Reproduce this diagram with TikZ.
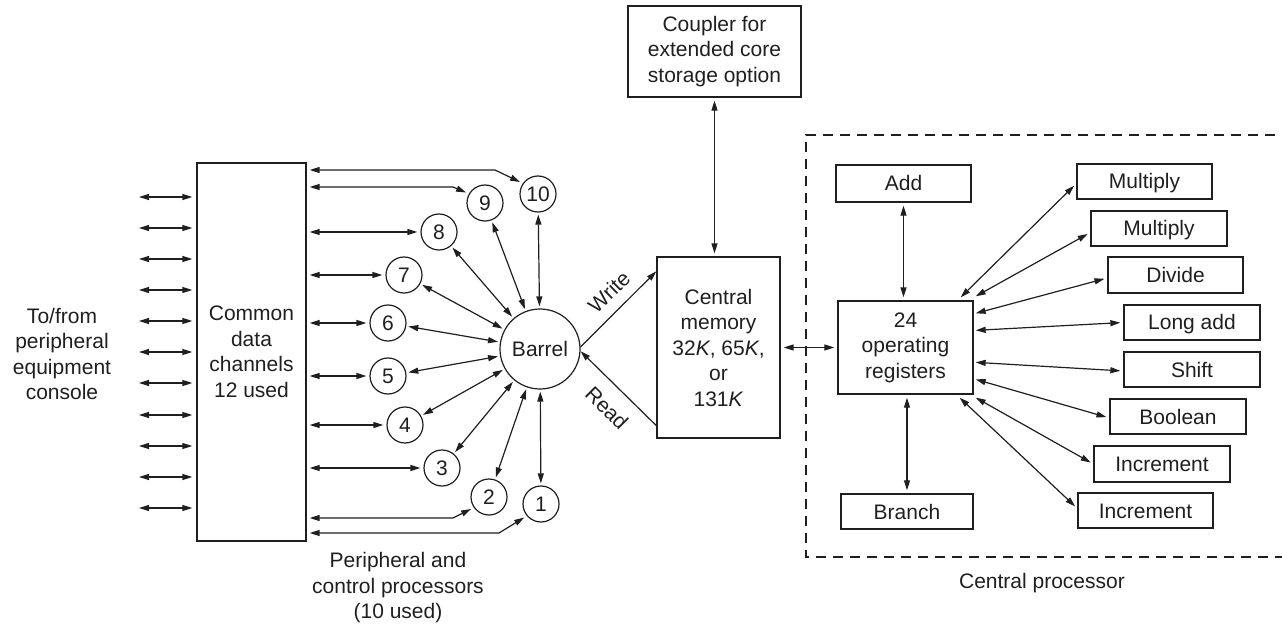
\documentclass[tikz,border=0pt]{standalone}
\usepackage{fontspec}
\setmainfont{Liberation Sans}
\usetikzlibrary{arrows.meta,calc}
\begin{document}
\begin{tikzpicture}[x=1pt,y=-1pt,
  every node/.style={font=\fontsize{21}{25.5}\selectfont,text=black!88},
  box/.style={draw=black!88,line width=1.3pt,inner sep=0pt,align=center},
  one/.style={box,text height=15pt,text depth=0pt},
  proc/.style={draw=black!88,circle,line width=1.2pt,minimum size=36pt,inner sep=0pt},
  tip/.tip={Triangle[length=10pt,width=6pt]},
  conn/.style={draw=black!88,line width=1.2pt,tip-tip,shorten <=3pt,shorten >=3pt},
  bconn/.style={draw=black!88,line width=1.2pt,tip-tip,shorten <=2pt,shorten >=2pt},
  rconn/.style={draw=black!88,line width=1.2pt,tip-tip,shorten >=3pt},
  oneway/.style={draw=black!88,line width=1.2pt,-tip},
  dashbox/.style={draw=black!88,line width=1.2pt,dash pattern=on 10pt off 7pt}
]
\useasboundingbox (0,0) rectangle (1282,628);

% left side
\node[align=center] (tofrom) at (62,354) {To/from\\peripheral\\equipment\\console};
\node[box,minimum width=109pt,minimum height=378pt] (chan) at (251.5,352) {Common\\data\\channels\\12 used};
\foreach \i/\y in {1/197,2/228,3/259,4/290,5/321,6/352,7/383,8/415,9/446,10/477,11/508}{
  \coordinate (L\i) at (139,\y);
  \draw[conn,shorten <=0pt,shorten >=4pt] (L\i) -- (L\i -| chan.west);
}

% barrel and processors
\node[draw=black!88,circle,line width=1.2pt,minimum size=80pt,inner sep=0pt] (barrel) at (540,349) {Barrel};
\node[proc] (c10) at (538,194) {10};
\node[proc] (c9) at (485,203) {9};
\node[proc] (c8) at (439,232) {8};
\node[proc] (c7) at (404,275) {7};
\node[proc] (c6) at (388,323) {6};
\node[proc] (c5) at (388,376) {5};
\node[proc] (c4) at (405,425) {4};
\node[proc] (c3) at (442,468) {3};
\node[proc] (c2) at (489,497) {2};
\node[proc] (c1) at (541,504) {1};

\foreach \c in {c8,c7,c6,c5,c4,c3}{
  \draw[conn] (\c.west -| chan.east) -- (\c.west);
}
\coordinate (b10) at (495,170);
\coordinate (b9) at (453,187);
\coordinate (b2) at (453,518);
\coordinate (b1) at (499,533);
\draw[conn] (b10 -| chan.east) -- (b10) -- (c10.145);
\draw[conn] (b9 -| chan.east) -- (b9) -- (c9.150);
\draw[conn] (b2 -| chan.east) -- (b2) -- (c2.215);
\draw[conn] (b1 -| chan.east) -- (b1) -- (c1.220);

\foreach \c in {c10,c9,c8,c7,c6,c5,c4,c3,c2,c1}{
  \draw[bconn] (\c) -- (barrel);
}

\node[align=center] (pplabel) at (398,588) {Peripheral and\\control processors\\(10 used)};

% memory
\node[box,minimum width=173pt,minimum height=91pt] (coupler) at (714.5,51.5) {Coupler for\\extended core\\storage option};
\node[box,minimum width=123pt,minimum height=181pt] (mem) at (718.5,347.5) {Central\\memory\\32\textit{K}, 65\textit{K},\\or\\131\textit{K}};
\draw[conn] (coupler.south) -- (coupler.south |- mem.north);

\coordinate (wend) at ($(mem.north west)+(0,15)$);
\coordinate (rstart) at ($(mem.south west)+(0,-13)$);
\draw[oneway] (barrel.3) -- (wend);
\draw[oneway] (rstart) -- (barrel.-3);
\node[rotate=44] (write) at (609,292) {Write};
\node[rotate=-45] (read) at (607,408) {Read};

% central processor
\draw[dashbox] (1275,135) -- (806,135) -- (806,557) -- (1282,557);
\node (cplabel) at (1042,583) {Central processor};

\node[box,minimum width=135pt,minimum height=93pt] (reg) at (905.5,347.5) {24\\operating\\registers};
\draw[conn] (mem.east) -- (reg.west);

\node[one,minimum width=135pt,minimum height=37pt] (add) at (903.5,183.5) {Add};
\node[one,minimum width=132pt,minimum height=35pt] (branch) at (907,511.5) {Branch};
\draw[conn] (add.south) -- (add.south |- reg.north);
\draw[conn] (branch.north) -- (branch.north |- reg.south);

\node[one,minimum width=135pt,minimum height=35pt] (mul1) at (1144.5,181.5) {Multiply};
\node[one,minimum width=136pt,minimum height=35pt] (mul2) at (1159,228.5) {Multiply};
\node[one,minimum width=135pt,minimum height=36pt] (div) at (1175.5,275) {Divide};
\node[one,minimum width=136pt,minimum height=35pt] (long) at (1192,322.5) {Long add};
\node[one,minimum width=136pt,minimum height=35pt] (shift) at (1192,369.5) {Shift};
\node[one,minimum width=136pt,minimum height=35pt] (bool) at (1178,416.5) {Boolean};
\node[one,minimum width=136pt,minimum height=36pt] (inc1) at (1162,464) {Increment};
\node[one,minimum width=135pt,minimum height=35pt] (inc2) at (1145.5,510.5) {Increment};

\coordinate (s1) at ($(reg.north east)+(-13,-3)$);
\coordinate (s2) at ($(reg.north east)+(2,-4)$);
\coordinate (s3) at ($(reg.north east)+(2,13)$);
\coordinate (s4) at ($(reg.north east)+(2,30)$);
\coordinate (s5) at ($(reg.north east)+(2,62)$);
\coordinate (s6) at ($(reg.north east)+(2,79)$);
\coordinate (s7) at ($(reg.south east)+(2,3)$);
\coordinate (s8) at ($(reg.south east)+(-14,3)$);
\draw[rconn] (s1) -- ($(mul1.west)+(0,2)$);
\draw[rconn] (s2) -- ($(mul2.west)+(0,4)$);
\draw[rconn] (s3) -- ($(div.west)+(0,3)$);
\draw[rconn] (s4) -- (long.west);
\draw[rconn] (s5) -- ($(shift.west)+(0,1.5)$);
\draw[rconn] (s6) -- ($(bool.west)+(0,1.5)$);
\draw[rconn] (s7) -- (inc1.west);
\draw[rconn] (s8) -- ($(inc2.west)+(0,-2)$);
\end{tikzpicture}
\end{document}
